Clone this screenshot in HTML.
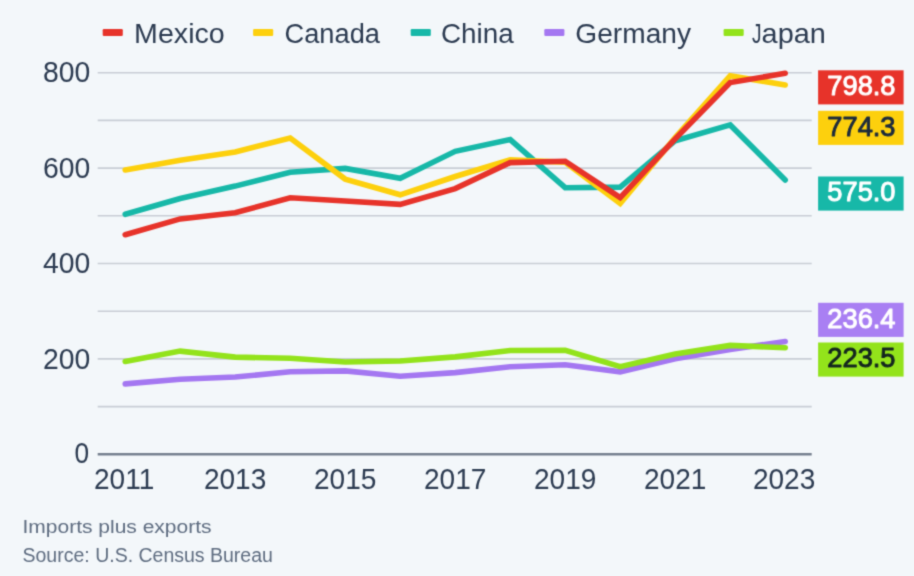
<!DOCTYPE html>
<html lang="en">
<head>
<meta charset="utf-8">
<title>U.S. goods trade with top partners</title>
<style>
html,body{margin:0;padding:0;background:#f3f7fa;}
body{width:914px;height:576px;overflow:hidden;}
svg{display:block;font-family:"Liberation Sans",Arial,Helvetica,sans-serif;}
</style>
</head>
<body>
<svg width="914" height="576" viewBox="0 0 914 576">
<defs><filter id="soft" x="-2%" y="-2%" width="104%" height="104%" color-interpolation-filters="sRGB"><feConvolveMatrix order="3" kernelMatrix="0.0277 0.1110 0.0277 0.1110 0.4452 0.1110 0.0277 0.1110 0.0277" edgeMode="duplicate" preserveAlpha="true"/></filter></defs>
<rect width="914" height="576" fill="#f3f7fa"/>
<g filter="url(#soft)">
<rect x="-20" y="-20" width="954" height="616" fill="#f3f7fa"/>

<g stroke="#c8cdd5" stroke-width="1.6" fill="none">
<line x1="97.7" x2="811.7" y1="406.60" y2="406.60"/>
<line x1="97.7" x2="811.7" y1="358.90" y2="358.90"/>
<line x1="97.7" x2="811.7" y1="311.20" y2="311.20"/>
<line x1="97.7" x2="811.7" y1="263.50" y2="263.50"/>
<line x1="97.7" x2="811.7" y1="215.80" y2="215.80"/>
<line x1="97.7" x2="811.7" y1="168.10" y2="168.10"/>
<line x1="97.7" x2="811.7" y1="120.40" y2="120.40"/>
<line x1="97.7" x2="811.7" y1="72.70" y2="72.70"/>
</g>
<line x1="97.7" x2="811.7" y1="454.25" y2="454.25" stroke="#76808f" stroke-width="2.5"/>
<g>
<text transform="translate(74.40 462.90) scale(0.9097 1)" font-size="28.86" fill="#2c3b51">0</text>
<text transform="translate(42.90 368.60) scale(0.9836 1)" font-size="28.86" fill="#2c3b51">200</text>
<text transform="translate(42.90 273.20) scale(0.9836 1)" font-size="28.86" fill="#2c3b51">400</text>
<text transform="translate(42.90 177.80) scale(0.9836 1)" font-size="28.86" fill="#2c3b51">600</text>
<text transform="translate(42.90 82.40) scale(0.9836 1)" font-size="28.86" fill="#2c3b51">800</text>
</g>
<g>
<text transform="translate(94.00 488.60) scale(0.9669 1)" font-size="29.00" fill="#2c3b51">2011</text>
<text transform="translate(203.90 488.60) scale(0.9669 1)" font-size="29.00" fill="#2c3b51">2013</text>
<text transform="translate(314.00 488.60) scale(0.9669 1)" font-size="29.00" fill="#2c3b51">2015</text>
<text transform="translate(424.00 488.60) scale(0.9669 1)" font-size="29.00" fill="#2c3b51">2017</text>
<text transform="translate(534.00 488.60) scale(0.9669 1)" font-size="29.00" fill="#2c3b51">2019</text>
<text transform="translate(644.00 488.60) scale(0.9669 1)" font-size="29.00" fill="#2c3b51">2021</text>
<text transform="translate(752.90 488.60) scale(0.9669 1)" font-size="29.00" fill="#2c3b51">2023</text>
</g>
<g fill="none" stroke-width="5.6" stroke-linejoin="miter" stroke-linecap="round">
<polyline stroke="#a477f1" points="125.2,383.9 180.2,379.3 235.2,377.0 290.2,371.8 345.2,370.9 400.2,376.3 455.2,372.6 510.2,366.7 565.2,364.7 620.2,371.8 675.2,358.8 730.2,349.5 785.2,341.5"/>
<polyline stroke="#93e31b" points="125.2,361.5 180.2,351.1 235.2,357.1 290.2,358.3 345.2,362.0 400.2,361.0 455.2,356.9 510.2,350.5 565.2,350.2 620.2,366.7 675.2,354.1 730.2,345.4 785.2,347.7"/>
<polyline stroke="#17b8a8" points="125.2,214.3 180.2,198.5 235.2,186.1 290.2,172.2 345.2,168.4 400.2,178.3 455.2,151.3 510.2,139.6 565.2,187.7 620.2,187.1 675.2,140.7 730.2,124.9 785.2,180.0"/>
<polyline stroke="#fdd00d" points="125.2,169.9 180.2,160.2 235.2,151.9 290.2,138.0 345.2,179.1 400.2,194.8 455.2,176.5 510.2,159.9 565.2,162.3 620.2,203.4 675.2,137.5 730.2,75.7 785.2,85.0"/>
<polyline stroke="#e7332a" points="125.2,234.7 180.2,218.9 235.2,212.7 290.2,197.8 345.2,201.0 400.2,204.4 455.2,188.6 510.2,162.6 565.2,161.2 620.2,197.6 675.2,138.9 730.2,82.6 785.2,73.3"/>
</g>
<g>
<rect x="102.7" y="29.0" width="20.1" height="7.0" rx="1.2" fill="#e7332a"/>
<text transform="translate(134.10 42.70) scale(1.0240 1)" font-size="27.97" fill="#2c3b51">Mexico</text>
<rect x="253.1" y="29.0" width="20.1" height="7.0" rx="1.2" fill="#fdd00d"/>
<text transform="translate(284.50 42.70) scale(0.9748 1)" font-size="27.97" fill="#2c3b51">Canada</text>
<rect x="410.7" y="29.0" width="20.1" height="7.0" rx="1.2" fill="#17b8a8"/>
<text transform="translate(441.00 42.70) scale(0.9961 1)" font-size="27.97" fill="#2c3b51">China</text>
<rect x="544.3" y="29.0" width="20.1" height="7.0" rx="1.2" fill="#a477f1"/>
<text transform="translate(575.30 42.70) scale(1.0064 1)" font-size="27.97" fill="#2c3b51">Germany</text>
<rect x="723.6" y="29.0" width="20.1" height="7.0" rx="1.2" fill="#93e31b"/>
<text x="752.10" y="42.70" font-size="27.97" fill="#2c3b51"><tspan textLength="9.5" lengthAdjust="spacingAndGlyphs">J</tspan><tspan textLength="64.3" lengthAdjust="spacingAndGlyphs">apan</tspan></text>
</g>
<g>
<rect x="818.1" y="70.3" width="85.5" height="34.1" fill="#e7332a"/>
<text transform="translate(827.30 95.20) scale(0.9548 1)" font-size="28.57" fill="#ffffff" stroke="#ffffff" stroke-width="1.0" stroke-linejoin="round">798.8</text>
<rect x="818.1" y="110.8" width="85.5" height="34.1" fill="#fdd00d"/>
<text transform="translate(827.30 135.70) scale(0.9548 1)" font-size="28.57" fill="#1d2b3c" stroke="#1d2b3c" stroke-width="1.0" stroke-linejoin="round">774.3</text>
<rect x="818.1" y="176.5" width="85.5" height="34.1" fill="#17b8a8"/>
<text transform="translate(827.30 201.40) scale(0.9548 1)" font-size="28.57" fill="#ffffff" stroke="#ffffff" stroke-width="1.0" stroke-linejoin="round">575.0</text>
<rect x="818.1" y="302.8" width="85.5" height="34.1" fill="#a97ff3"/>
<text transform="translate(827.30 327.70) scale(0.9548 1)" font-size="28.57" fill="#ffffff" stroke="#ffffff" stroke-width="1.0" stroke-linejoin="round">236.4</text>
<rect x="818.1" y="342.5" width="85.5" height="34.1" fill="#93e31b"/>
<text transform="translate(827.30 367.40) scale(0.9548 1)" font-size="28.57" fill="#14261f" stroke="#14261f" stroke-width="1.0" stroke-linejoin="round">223.5</text>
</g>
<g>
<text transform="translate(22.50 533.10) scale(1.0942 1)" font-size="19.20" fill="#5e6c80">Imports plus exports</text>
<text transform="translate(22.50 562.10) scale(1.0050 1)" font-size="19.42" fill="#5e6c80">Source: U.S. Census Bureau</text>
</g>
</g>
</svg>
</body>
</html>
